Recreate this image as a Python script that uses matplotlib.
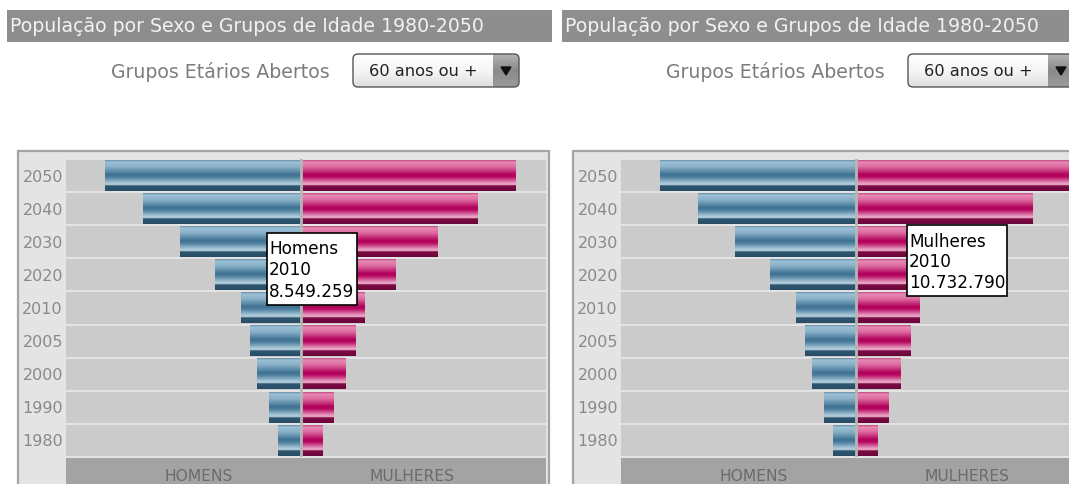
import numpy as np
import matplotlib
matplotlib.use('Agg')
import matplotlib.pyplot as plt
from matplotlib.patches import Rectangle, FancyBboxPatch, Polygon
from matplotlib.colors import to_rgb

# ---------------- data (population 60+, millions) ----
years = ['1980', '1990', '2000', '2005', '2010', '2020', '2030', '2040', '2050']
homens = [3.3, 4.6, 6.3, 7.3, 8.55, 12.3, 17.2, 22.5, 27.9]
mulheres = [3.1, 4.6, 6.4, 7.7, 9.1, 13.5, 19.5, 25.1, 30.6]

title = 'População por Sexo e Grupos de Idade 1980-2050'
filter_label = 'Grupos Etários Abertos'
filter_value = '60 anos ou +'
side_labels = ['HOMENS', 'MULHERES']
tooltip_left = ['Homens', '2010', '8.549.259']
tooltip_right = ['Mulheres', '2010', '10.732.790']

# ---------------- figure -----------------------------------------------------
W, H = 1069, 484
fig = plt.figure(figsize=(W / 100, H / 100), dpi=100)
fig.patch.set_facecolor('white')


def overlay(z):
    a = fig.add_axes([0, 0, 1, 1], zorder=z)
    a.set_xlim(0, W)
    a.set_ylim(H, 0)
    a.axis('off')
    a.patch.set_alpha(0)
    return a


bg = overlay(0)
fg = overlay(5)


def fig_rect(x0, y0, x1, y1):
    return [x0 / W, 1 - y1 / H, (x1 - x0) / W, (y1 - y0) / H]


def grad(stops, n=96):
    pos = np.array([s[0] for s in stops])
    cols = np.array([to_rgb(s[1]) for s in stops])
    t = np.linspace(0, 1, n)
    arr = np.stack([np.interp(t, pos, cols[:, i]) for i in range(3)], axis=1)
    return arr[:, None, :]


blue_grad = grad([(0.0, '#6a90a8'), (0.06, '#9cc0d5'), (0.22, '#88b0c8'),
                  (0.47, '#3e7192'), (0.55, '#4c7e9d'), (0.74, '#a6c5d7'),
                  (0.80, '#bcd2df'), (0.83, '#2f5771'), (1.0, '#294d66')])
pink_grad = grad([(0.0, '#c24a82'), (0.06, '#e68bb4'), (0.22, '#dd6aa0'),
                  (0.47, '#b0005a'), (0.55, '#b80c63'), (0.74, '#e596bc'),
                  (0.80, '#eeb2cd'), (0.83, '#7c0b44'), (1.0, '#6c063a')])

XMIN, XMAX = -33.49, 34.91


def panel(dx, rows_x0, tooltip, tip_box, tip_lines_y):
    # title bar
    bg.add_patch(Rectangle((7 + dx, 10), 545, 32, color='#8e8e8e', lw=0))
    bg.text(10 + dx, 26.5, title, color='#f2f2f2', fontsize=13.6,
            va='center', ha='left', family='DejaVu Sans')
    # filter label
    bg.text(330 + dx, 72, filter_label, color='#7c7c7c', fontsize=13.6,
            va='center', ha='right', family='DejaVu Sans')
    # dropdown
    x0, y0, x1, y1 = 353 + dx, 54, 519 + dx, 87
    box = FancyBboxPatch((x0, y0), x1 - x0, y1 - y0,
                         boxstyle='round,pad=0,rounding_size=5',
                         facecolor='none', edgecolor='#555555', lw=1.0, zorder=3)
    bg.add_patch(box)
    im = bg.imshow(grad([(0, '#ffffff'), (0.5, '#f6f6f6'), (1, '#dedede')]),
                   extent=(x0, x1, y1, y0), aspect='auto', origin='upper',
                   zorder=2, interpolation='bilinear')
    im.set_clip_path(box)
    ar = bg.imshow(grad([(0, '#b4b4b4'), (0.5, '#8a8a8a'), (1, '#9c9c9c')]),
                   extent=(x1 - 26, x1, y1, y0), aspect='auto', origin='upper',
                   zorder=2.5, interpolation='bilinear')
    ar.set_clip_path(box)
    bg.add_patch(Polygon([(x1 - 18, y0 + 13), (x1 - 8, y0 + 13), (x1 - 13, y0 + 21)],
                         closed=True, color='#111111', zorder=4))
    bg.text(x0 + 70, 71, filter_value, color='#222222', fontsize=11.7,
            va='center', ha='center', family='DejaVu Sans', zorder=4)
    # frame
    bg.add_patch(Rectangle((18 + dx, 151), 531, 360, facecolor='#e4e4e4',
                           edgecolor='#a4a4a4', lw=1.6))
    # bottom band
    bg.add_patch(Rectangle((rows_x0, 458), 480, 40, color='#a3a3a3', lw=0))
    cx = rows_x0 + 235
    bg.text(cx - 102, 481, side_labels[0], color='#6b6b6b', fontsize=11.2,
            ha='center', va='baseline', family='DejaVu Sans')
    bg.text(cx + 111, 481, side_labels[1], color='#6b6b6b', fontsize=11.2,
            ha='center', va='baseline', family='DejaVu Sans')

    # rows axes
    ax = fig.add_axes(fig_rect(rows_x0, 159, rows_x0 + 480, 457), zorder=1)
    ax.set_facecolor('#e3e3e3')
    ypos = np.arange(len(years))
    for y in ypos:
        ax.axhspan(y - 0.47, y + 0.47, color='#cbcbcb', lw=0, zorder=0)
    bm = ax.barh(ypos, [-v for v in homens], height=0.92, color='#4a7b9b', lw=0, zorder=1)
    bw = ax.barh(ypos, mulheres, height=0.92, color='#b0005a', lw=0, zorder=1)
    for bars, g in ((bm, blue_grad), (bw, pink_grad)):
        for b in bars:
            ax.imshow(g, extent=(b.get_x(), b.get_x() + b.get_width(),
                                 b.get_y(), b.get_y() + b.get_height()),
                      aspect='auto', origin='upper', interpolation='bilinear', zorder=2)
    ax.axvline(0, color='#b6b6b6', lw=2.0, zorder=3)
    ax.set_xlim(XMIN, XMAX)
    ax.set_ylim(-0.5, len(years) - 0.5)
    ax.set_yticks(ypos, years)
    ax.set_xticks([])
    ax.tick_params(axis='y', length=0, pad=2.2, labelsize=11.5, labelcolor='#8a8a8a')
    for s in ax.spines.values():
        s.set_visible(False)

    # tooltip
    tx0, ty0, tx1, ty1 = tip_box
    fg.add_patch(Rectangle((tx0, ty0), tx1 - tx0, ty1 - ty0, facecolor='white',
                           edgecolor='black', lw=1.2))
    for line, yy in zip(tooltip, tip_lines_y):
        fg.text(tx0 + 2, yy, line, color='black', fontsize=12.2, va='center',
                ha='left', family='DejaVu Sans')


panel(0, 66, tooltip_left, (267, 233, 357, 305), (249, 270, 292))
panel(555, 621, tooltip_right, (907, 225, 1007, 296), (242, 262, 283))

fig.savefig('out.png', dpi=100)
